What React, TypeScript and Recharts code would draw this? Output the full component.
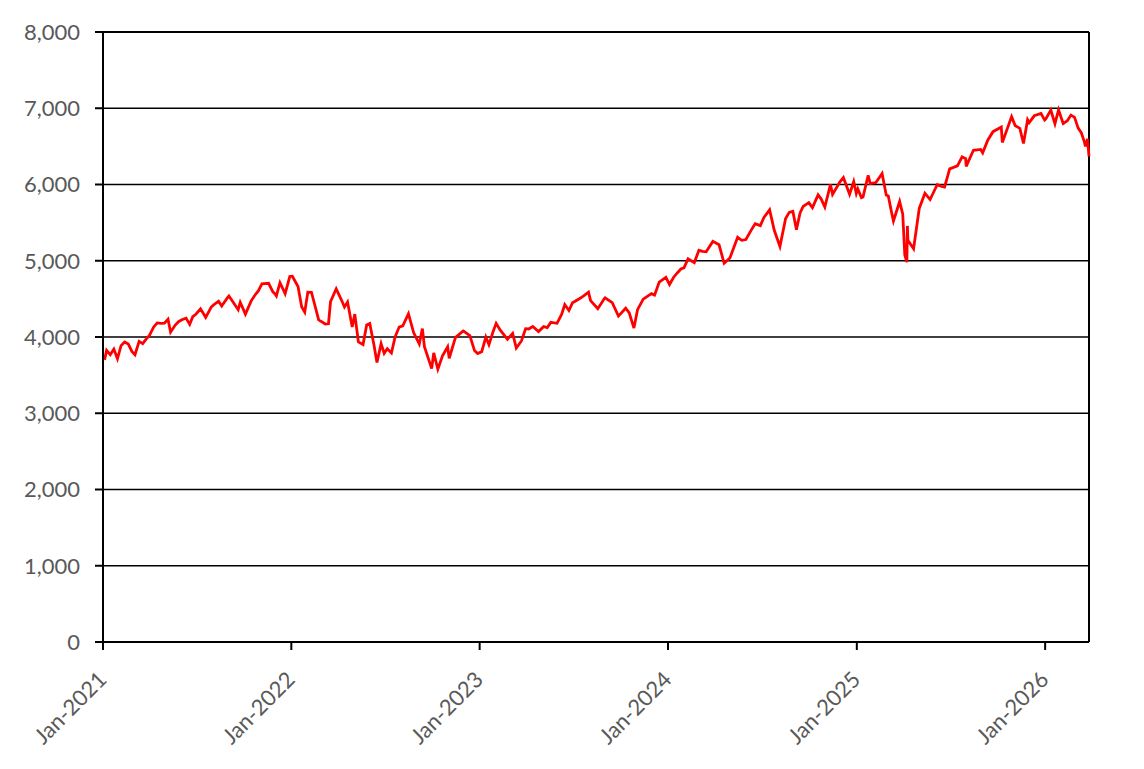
import React from "react";
import {
  LineChart,
  Line,
  XAxis,
  YAxis,
  CartesianGrid,
  ReferenceLine,
} from "recharts";

const days2021 = [
  "01-04", "01-08", "01-15", "01-22", "01-29", "02-05", "02-12", "02-19", "02-26", "03-04",
  "03-12", "03-19", "03-26", "04-01", "04-09", "04-16", "04-23", "04-30", "05-07", "05-12",
  "05-21", "05-28", "06-04", "06-11", "06-18", "06-24", "06-30", "07-09", "07-19", "07-30",
  "08-06", "08-13", "08-19", "08-31", "09-02", "09-10", "09-20", "09-24", "10-04", "10-15",
  "10-22", "10-29", "11-05", "11-18", "11-26", "11-30", "12-03", "12-10", "12-20", "12-29",
];
const closes2021 = [
  3700, 3824, 3768, 3841, 3714, 3887, 3934, 3907, 3811, 3768,
  3943, 3913, 3975, 4020, 4129, 4185, 4180, 4181, 4232, 4063,
  4156, 4204, 4230, 4247, 4166, 4266, 4298, 4370, 4258, 4395,
  4436, 4468, 4406, 4523, 4537, 4459, 4358, 4455, 4300, 4471,
  4545, 4605, 4697, 4704, 4595, 4567, 4538, 4712, 4568, 4793,
];

const days2022 = [
  "01-03", "01-14", "01-21", "01-27", "02-02", "02-09", "02-23", "03-08", "03-14", "03-18",
  "03-29", "04-08", "04-14", "04-20", "04-29", "05-04", "05-11", "05-20", "05-27", "06-02",
  "06-10", "06-16", "06-24", "06-30", "07-06", "07-14", "07-21", "07-29", "08-05", "08-16",
  "08-26", "09-06", "09-12", "09-16", "09-30", "10-04", "10-12", "10-21", "10-31", "11-03",
  "11-15", "11-30", "12-01", "12-13", "12-22", "12-28",
];
const closes2022 = [
  4797, 4663, 4398, 4326, 4589, 4587, 4225, 4170, 4173, 4463,
  4632, 4488, 4393, 4459, 4132, 4300, 3935, 3901, 4158, 4177,
  3901, 3667, 3912, 3785, 3845, 3790, 3999, 4130, 4145, 4305,
  4058, 3908, 4110, 3873, 3586, 3791, 3577, 3752, 3872, 3720,
  3992, 4080, 4076, 4019, 3822, 3783,
];

const days2023 = [
  "01-05", "01-13", "01-19", "01-27", "02-02", "02-10", "02-24", "03-06", "03-13", "03-23",
  "03-31", "04-06", "04-14", "04-25", "05-05", "05-12", "05-19", "05-31", "06-09", "06-15",
  "06-23", "06-30", "07-14", "07-21", "07-31", "08-04", "08-18", "08-31", "09-01", "09-15",
  "09-27", "10-11", "10-18", "10-27", "11-03", "11-14", "11-30", "12-06", "12-15", "12-28",
];
const closes2023 = [
  3808, 3999, 3899, 4070, 4179, 4090, 3970, 4048, 3855, 3948,
  4109, 4105, 4137, 4071, 4136, 4124, 4192, 4180, 4299, 4426,
  4348, 4450, 4505, 4536, 4589, 4478, 4370, 4508, 4515, 4450,
  4274, 4377, 4315, 4117, 4358, 4496, 4568, 4549, 4719, 4783,
];

const days2024 = [
  "01-04", "01-12", "01-19", "01-26", "02-01", "02-09", "02-21", "03-01", "03-08", "03-15",
  "03-28", "04-09", "04-15", "04-19", "04-30", "05-15", "05-23", "05-31", "06-12", "06-18",
  "06-28", "07-05", "07-16", "07-25", "08-05", "08-16", "08-23", "08-30", "09-06", "09-13",
  "09-19", "09-30", "10-07", "10-18", "10-24", "10-31", "11-11", "11-15", "11-29", "12-06",
  "12-18", "12-26", "12-31",
];
const closes2024 = [
  4688, 4784, 4840, 4891, 4906, 5027, 4976, 5137, 5124, 5117,
  5254, 5209, 5062, 4967, 5036, 5308, 5268, 5278, 5421, 5487,
  5460, 5567, 5667, 5399, 5186, 5554, 5634, 5648, 5408, 5626,
  5713, 5762, 5696, 5864, 5809, 5705, 6001, 5870, 6032, 6090,
  5872, 6037, 5882,
];

const days2025 = [
  "01-03", "01-10", "01-13", "01-23", "01-27", "02-07", "02-19", "02-27", "03-03", "03-10",
  "03-13", "03-25", "03-31", "04-04", "04-08", "04-09", "04-10", "04-21", "05-02", "05-13",
  "05-23", "06-06", "06-13", "06-20", "06-30", "07-15", "07-24", "07-31", "08-01", "08-15",
  "08-29", "09-02", "09-12", "09-22", "10-08", "10-10", "10-28", "11-04", "11-13", "11-20",
  "11-28", "12-01", "12-11", "12-24", "12-31",
];
const closes2025 = [
  5942, 5827, 5836, 6119, 6012, 6026, 6144, 5861, 5849, 5614,
  5521, 5777, 5612, 5074, 4982, 5457, 5268, 5158, 5686, 5886,
  5803, 6000, 5977, 5967, 6205, 6244, 6363, 6339, 6238, 6449,
  6460, 6415, 6584, 6693, 6753, 6552, 6890, 6771, 6737, 6538,
  6849, 6812, 6901, 6932, 6845,
];

const days2026 = [
  "01-02", "01-12", "01-20", "01-27", "02-05", "02-13", "02-20", "02-27", "03-06", "03-12",
  "03-18", "03-20", "03-24", "03-27",
];
const closes2026 = [
  6858, 6977, 6797, 6978, 6798, 6836, 6910, 6880, 6740, 6680,
  6560, 6500, 6600, 6370,
];

const yearTicks = ["2021-01-01", "2022-01-01", "2023-01-01", "2024-01-01", "2025-01-01", "2026-01-01"];
const valueTicks = [0, 1000, 2000, 3000, 4000, 5000, 6000, 7000, 8000];
const MONTHS = ["Jan", "Feb", "Mar", "Apr", "May", "Jun", "Jul", "Aug", "Sep", "Oct", "Nov", "Dec"];

const toTime = (s: string) => Date.parse(s + "T00:00:00Z");

const years: [number, string[], number[]][] = [
  [2021, days2021, closes2021],
  [2022, days2022, closes2022],
  [2023, days2023, closes2023],
  [2024, days2024, closes2024],
  [2025, days2025, closes2025],
  [2026, days2026, closes2026],
];
const data = years.flatMap(([yr, days, vals]) =>
  days.map((d, i) => ({ t: toTime(`${yr}-${d}`), close: vals[i] }))
);
const xStart = toTime("2021-01-01");
const xEnd = toTime("2026-03-27");

const FONT = "Lato, 'Open Sans', sans-serif";
const TEXT = "#595959";

function DateTick(props: any) {
  const { x, y, payload } = props;
  const d = new Date(payload.value);
  const label = `${MONTHS[d.getUTCMonth()]}-${d.getUTCFullYear()}`;
  const ax = x + 5;
  const ay = y + 29;
  return (
    <text
      x={ax}
      y={ay}
      transform={`rotate(-45 ${ax} ${ay})`}
      textAnchor="end"
      fill={TEXT}
      fontSize={22}
      fontFamily={FONT}
    >
      {label}
    </text>
  );
}

export default function App() {
  return (
    <div style={{ width: 1136, height: 761, background: "#fff" }}>
      <LineChart
        width={1136}
        height={761}
        data={data}
        margin={{ top: 24, right: 55, left: 0, bottom: 67 }}
      >
        <CartesianGrid vertical={false} stroke="#000" strokeWidth={1.4} />
        <XAxis
          dataKey="t"
          type="number"
          scale="time"
          domain={[xStart, xEnd]}
          ticks={yearTicks.map(toTime)}
          tick={<DateTick />}
          tickSize={8}
          height={60}
          interval={0}
          axisLine={{ stroke: "#000", strokeWidth: 2 }}
          tickLine={{ stroke: "#000", strokeWidth: 2 }}
        />
        <YAxis
          type="number"
          domain={[0, 8000]}
          ticks={valueTicks}
          interval={0}
          width={95}
          tickSize={8}
          tickMargin={15}
          tickFormatter={(v: number) => v.toLocaleString("en-US")}
          tick={{ fill: TEXT, fontSize: 22, fontFamily: FONT }}
          axisLine={{ stroke: "#000", strokeWidth: 2 }}
          tickLine={{ stroke: "#000", strokeWidth: 2 }}
        />
        <ReferenceLine y={8000} stroke="#000" strokeWidth={2} />
        <ReferenceLine x={xEnd} stroke="#000" strokeWidth={2} />
        <Line
          type="linear"
          dataKey="close"
          stroke="#ff0000"
          strokeWidth={2.8}
          dot={false}
          isAnimationActive={false}
        />
      </LineChart>
    </div>
  );
}
